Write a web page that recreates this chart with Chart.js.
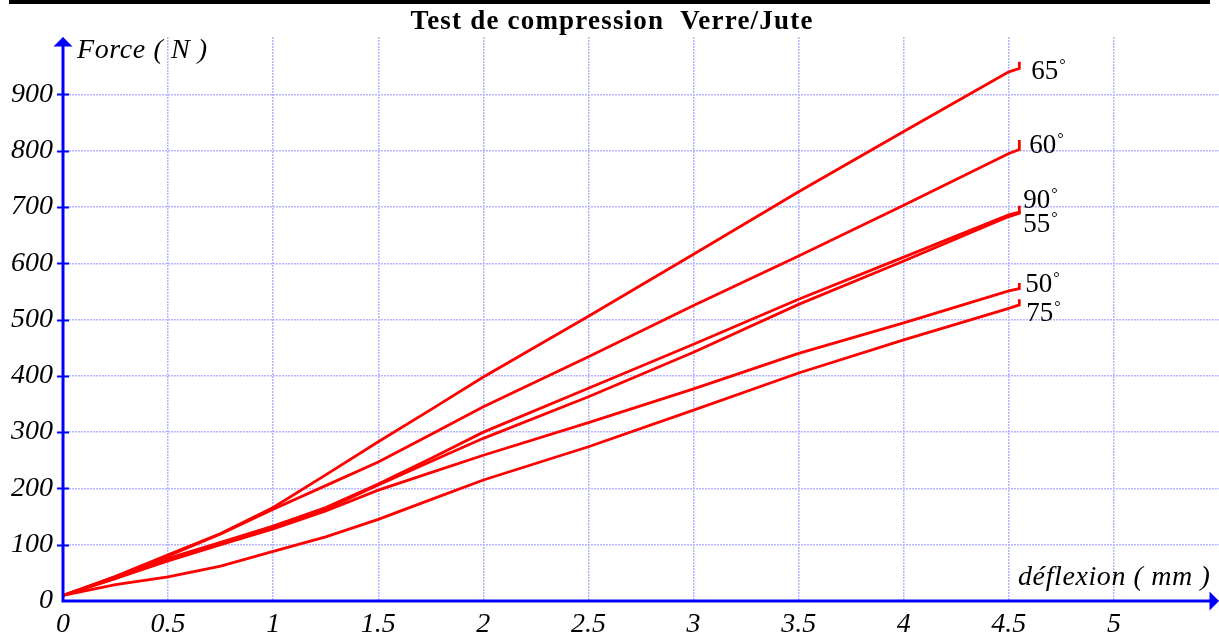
<!DOCTYPE html>
<html>
<head>
<meta charset="utf-8">
<title>Test de compression Verre/Jute</title>
<script src="https://cdn.jsdelivr.net/npm/chart.js@4/dist/chart.umd.min.js"></script>
<style>
  html, body { margin: 0; padding: 0; background: #fff; }
  #wrap { width: 1219px; height: 640px; }
</style>
</head>
<body>
<div id="wrap"><canvas id="chart" width="1219" height="640"></canvas></div>
<script>
// deflexion (mm) shared by every test; the last point repeats 4.55 for the end jump
const deflexion = [0, 0.25, 0.5, 0.75, 1, 1.25, 1.5, 1.75, 2, 2.5, 3, 3.5, 4, 4.5, 4.55, 4.55];

// force (N) per fibre angle
const force65 = [10, 44, 82, 120, 166, 224, 283, 340, 398, 506, 616, 727, 834, 940, 946, 958];
const force60 = [10, 43, 80, 119, 163, 205, 247, 296, 345, 434, 525, 613, 703, 795, 802, 819];
const force90 = [10, 41, 76, 104, 133, 166, 208, 253, 300, 378, 456, 536, 611, 686, 691, 702];
const force55 = [10, 40, 73, 102, 130, 163, 206, 248, 289, 363, 442, 527, 604, 683, 689, 693];
const force50 = [10, 40, 71, 100, 128, 160, 197, 228, 259, 317, 377, 440, 494, 551, 555, 565];
const force75 = [10, 29, 43, 62, 88, 114, 145, 180, 215, 274, 339, 405, 464, 520, 526, 536];

const angles = ["65", "60", "90", "55", "50", "75"];
const seriesForce = [force65, force60, force90, force55, force50, force75];

const xTickValues = [0, 0.5, 1, 1.5, 2, 2.5, 3, 3.5, 4, 4.5, 5];
const xTickLabels = ["0", "0.5", "1", "1.5", "2", "2.5", "3", "3.5", "4", "4.5", "5"];
const yTickValues = [0, 100, 200, 300, 400, 500, 600, 700, 800, 900];
const yTickLabels = ["0", "100", "200", "300", "400", "500", "600", "700", "800", "900"];

// where each angle tag sits relative to the end of its curve (px)
const tagOffsets = [[12, 10], [10, 3.5], [4, -4], [4, 19], [6, 3.5], [7, 16]];

const BLUE = '#0000ff';
const GRID = 'rgb(182, 182, 255)';
const SERIF = '"Liberation Serif", "Times New Roman", serif';

const datasets = seriesForce.map((f, i) => ({
  label: angles[i] + '°',
  data: deflexion.map((d, k) => ({ x: d, y: f[k] })),
  borderColor: '#ff0000',
  backgroundColor: '#ff0000',
  borderWidth: 2.8,
  pointRadius: 0,
  tension: 0
}));

const decor = {
  id: 'decor',
  beforeDraw(chart) {
    const { ctx } = chart;
    ctx.save();
    ctx.fillStyle = '#000';
    ctx.fillRect(9, 0, 1201, 4);
    ctx.font = 'bold 27px ' + SERIF;
    ctx.letterSpacing = '1.2px';
    ctx.textAlign = 'center';
    ctx.textBaseline = 'alphabetic';
    ctx.fillText('Test de compression  Verre/Jute', 612, 29);
    ctx.restore();
  },
  afterDatasetsDraw(chart) {
    const { ctx, chartArea: a, scales: { x, y } } = chart;
    const x0 = x.getPixelForValue(0);
    const y0 = y.getPixelForValue(0);
    ctx.save();
    ctx.strokeStyle = BLUE;
    ctx.fillStyle = BLUE;

    // axes
    ctx.lineWidth = 3;
    ctx.beginPath();
    ctx.moveTo(x0, y0 + 1.5);
    ctx.lineTo(x0, a.top + 8);
    ctx.moveTo(x0 - 1.5, y0);
    ctx.lineTo(a.right - 8, y0);
    ctx.stroke();

    // arrow heads
    ctx.beginPath();
    ctx.moveTo(x0, a.top);
    ctx.lineTo(x0 - 9.5, a.top + 9.5);
    ctx.lineTo(x0 + 9.5, a.top + 9.5);
    ctx.closePath();
    ctx.fill();
    ctx.beginPath();
    ctx.moveTo(a.right, y0);
    ctx.lineTo(a.right - 9.5, y0 - 9.5);
    ctx.lineTo(a.right - 9.5, y0 + 9.5);
    ctx.closePath();
    ctx.fill();

    // tick marks on the force axis
    ctx.lineWidth = 2;
    ctx.beginPath();
    y.ticks.forEach(t => {
      if (t.value <= 0) return;
      const py = Math.round(y.getPixelForValue(t.value)) + 0.5;
      ctx.moveTo(x0 - 6, py);
      ctx.lineTo(x0 + 6, py);
    });
    ctx.stroke();

    // axis titles
    ctx.fillStyle = '#000';
    ctx.font = 'italic 28px ' + SERIF;
    ctx.letterSpacing = '0.6px';
    ctx.textAlign = 'left';
    ctx.textBaseline = 'alphabetic';
    ctx.fillText('Force ( N )', 77, 58);
    ctx.fillText('déflexion ( mm )', 1018, 585);
    ctx.letterSpacing = '0px';

    // angle tags at the end of each curve
    chart.data.datasets.forEach((ds, i) => {
      const end = ds.data[ds.data.length - 2];
      const px = x.getPixelForValue(end.x) + tagOffsets[i][0];
      const py = y.getPixelForValue(end.y) + tagOffsets[i][1];
      ctx.font = '27px ' + SERIF;
      ctx.fillText(angles[i], px, py);
      const w = ctx.measureText(angles[i]).width;
      ctx.font = '16px ' + SERIF;
      ctx.fillText('°', px + w + 1, py - 9);
    });
    ctx.restore();
  }
};

const gridOpts = { color: GRID, lineWidth: 1.5, drawTicks: false };
const borderOpts = { display: false, dash: [2, 1] };

new Chart(document.getElementById('chart'), {
  type: 'line',
  data: { datasets },
  options: {
    responsive: false,
    animation: false,
    devicePixelRatio: 1,
    events: [],
    layout: { padding: { top: 37, right: 0, bottom: 0, left: 0 } },
    plugins: {
      legend: { display: false },
      tooltip: { enabled: false },
      title: { display: false }
    },
    scales: {
      x: {
        type: 'linear',
        min: 0,
        max: 5.5,
        afterFit: s => { s.height = 39; },
        afterBuildTicks: s => { s.ticks = xTickValues.map(v => ({ value: v })); },
        ticks: {
          callback: (v, i) => xTickLabels[i],
          color: '#000',
          padding: 7,
          maxRotation: 0,
          autoSkip: false,
          font: { family: SERIF, size: 28, style: 'italic' }
        },
        grid: gridOpts,
        border: borderOpts
      },
      y: {
        type: 'linear',
        min: 0,
        max: 1002,
        afterFit: s => { s.width = 63; },
        afterBuildTicks: s => { s.ticks = yTickValues.map(v => ({ value: v })); },
        ticks: {
          callback: (v, i) => yTickLabels[i],
          color: '#000',
          padding: 10,
          autoSkip: false,
          font: { family: SERIF, size: 28, style: 'italic' }
        },
        grid: gridOpts,
        border: borderOpts
      }
    }
  },
  plugins: [decor]
});
</script>
</body>
</html>
